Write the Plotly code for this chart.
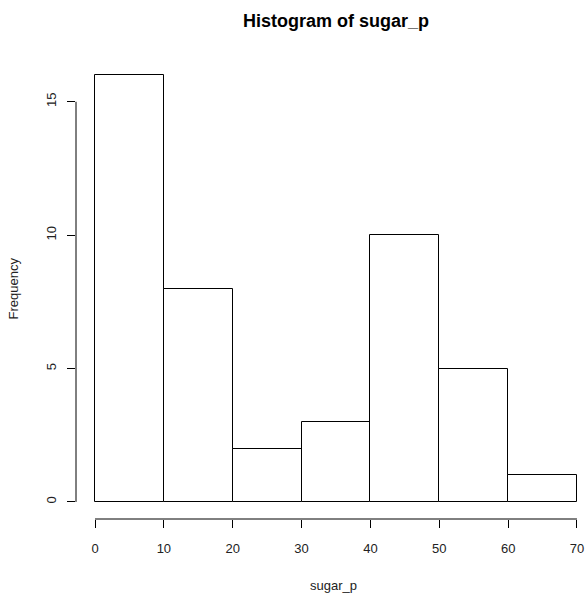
import plotly.graph_objects as go

# ---- data ----
bin_edges = [0, 10, 20, 30, 40, 50, 60, 70]
counts = [16, 8, 2, 3, 10, 5, 1]
x_ticks = [0, 10, 20, 30, 40, 50, 60, 70]
y_ticks = [0, 5, 10, 15]
title_text = "Histogram of sugar_p"
x_label = "sugar_p"
y_label = "Frequency"

mids = [(a + b) / 2 for a, b in zip(bin_edges[:-1], bin_edges[1:])]
widths = [b - a for a, b in zip(bin_edges[:-1], bin_edges[1:])]

W, H = 586, 595
ml, mr, mt, mb = 76, 0, 58, 76
FONT = "Arial, 'Liberation Sans', Helvetica, sans-serif"

fig = go.Figure()
fig.add_trace(go.Bar(
    x=mids, y=counts, width=widths,
    marker=dict(color="white", line=dict(color="black", width=1)),
    hoverinfo="x+y",
))

# R-style detached axis lines spanning the tick range
fig.add_shape(type="line", xref="x", yref="paper",
              x0=min(x_ticks), x1=max(x_ticks), y0=0, y1=0,
              line=dict(color="black", width=1))
fig.add_shape(type="line", xref="paper", yref="y",
              x0=0, x1=0, y0=min(y_ticks), y1=max(y_ticks),
              line=dict(color="black", width=1))

fig.update_layout(
    width=W, height=H,
    margin=dict(l=ml, r=mr, t=mt, b=mb, pad=0),
    paper_bgcolor="white", plot_bgcolor="white",
    font=dict(family=FONT, size=13, color="black"),
    showlegend=False,
    bargap=0,
    title=dict(text="<b>" + title_text + "</b>", x=(336 - ml) / (W - ml - mr),
               xref="paper", xanchor="center",
               y=1 - 21 / H, yref="container", yanchor="middle",
               font=dict(family=FONT, size=18, color="black")),
    xaxis=dict(range=[-2.76, 71.31], tickvals=x_ticks, ticktext=[str(v) for v in x_ticks],
               ticks="outside", ticklen=8, tickwidth=1, tickcolor="black",
               showline=False, showgrid=False, zeroline=False,
               ticklabelstandoff=9, tickfont=dict(size=13, color="#222"),
               automargin=False, fixedrange=True),
    yaxis=dict(range=[-0.64, 16.64], tickvals=y_ticks, ticktext=[str(v) for v in y_ticks],
               ticks="outside", ticklen=8, tickwidth=1, tickcolor="black",
               showline=False, showgrid=False, zeroline=False,
               tickangle=-90, ticklabelstandoff=6, tickfont=dict(size=13, color="#222"),
               automargin=False, fixedrange=True),
    annotations=[
        dict(text=x_label, xref="paper", yref="paper",
             x=(333 - ml) / (W - ml - mr), y=0, yshift=-(585 - (H - mb)),
             xanchor="center", yanchor="middle", showarrow=False,
             font=dict(family=FONT, size=13, color="#222")),
        dict(text=y_label, xref="paper", yref="paper",
             x=0, xshift=-(ml - 13), y=0.5, textangle=-90,
             xanchor="center", yanchor="middle", showarrow=False,
             font=dict(family=FONT, size=13, color="#222")),
    ],
)

fig.write_html("out.html", config={"displayModeBar": False},
               post_script="document.body.style.margin='0';document.body.style.overflow='hidden';")
